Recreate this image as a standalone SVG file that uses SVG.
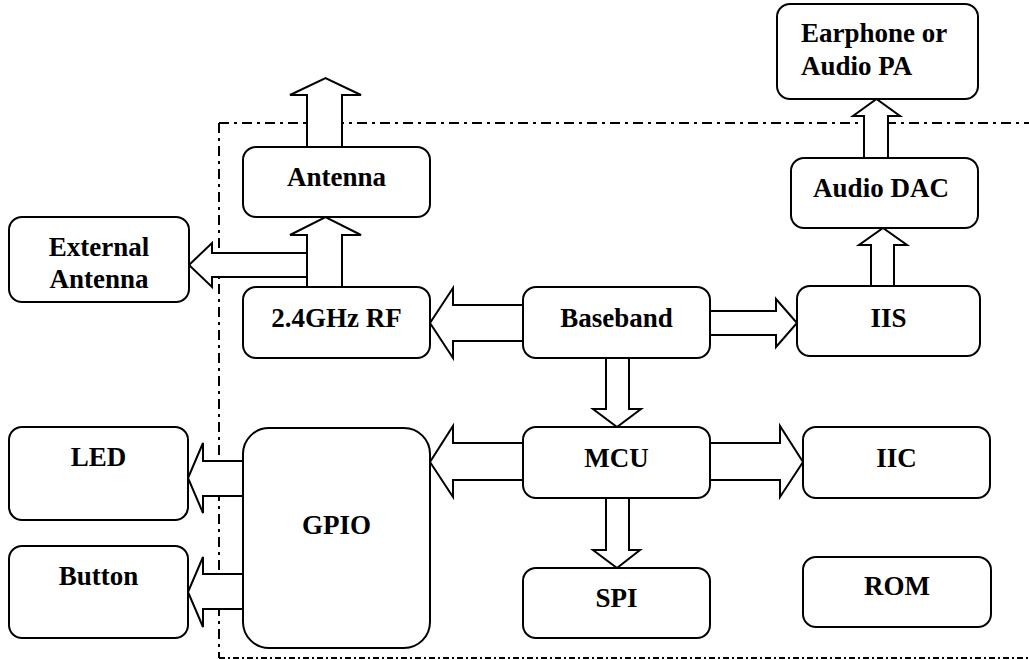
<svg xmlns="http://www.w3.org/2000/svg" width="1029" height="660" viewBox="0 0 1029 660">
<style>
.box{fill:#fff;stroke:#000;stroke-width:2}
.arr{fill:#fff;stroke:#000;stroke-width:2;stroke-linejoin:miter}
.t{font-family:"Liberation Serif","Times New Roman",serif;font-weight:bold;font-size:27px;fill:#000;text-anchor:middle}
.frame{fill:none;stroke:#000;stroke-width:2}
</style>
<rect width="1029" height="660" fill="#fff"/>
<g id="frame">
<path class="frame" d="M219,123 H1029" stroke-dasharray="10 5 3 5"/>
<path class="frame" d="M219,123 V658" stroke-dasharray="10 5 3 5"/>
<path class="frame" d="M219,658 H1029" stroke-dasharray="6 3 2 3"/>
</g>
<g id="connectors">
<polygon class="arr" points="307,147 307,95 290,95 325.5,78 361,95 342,95 342,147"/>
<polygon class="arr" points="212,253 308,253 308,277 212,277 212,287 189,265 212,243"/>
<polygon class="arr" points="307,287 307,235 290,235 325.5,217 361,235 342,235 342,287"/>
<polygon class="arr" points="523,305 453,305 453,288 430,323 453,358 453,341 523,341"/>
<polygon class="arr" points="710,311 776,311 776,299 797,323 776,347 776,335 710,335"/>
<polygon class="arr" points="606,358 606,409 593,409 617,427 641,409 629,409 629,358"/>
<polygon class="arr" points="523,443 453,443 453,426 430,462 453,497 453,480 523,480"/>
<polygon class="arr" points="710,443 780,443 780,426 803,462 780,497 780,480 710,480"/>
<polygon class="arr" points="606,498 606,550 593,550 617,568 640,550 629,550 629,498"/>
<polygon class="arr" points="243,461 203,461 203,443 188,478 203,513 203,496 243,496"/>
<polygon class="arr" points="243,574 203,574 203,557 188,592 203,627 203,609 243,609"/>
<polygon class="arr" points="871,286 871,245 859,245 883,228 907,245 894,245 894,286"/>
<polygon class="arr" points="864,158 864,116 853,116 876.5,99 900,116 888,116 888,158"/>
</g>
<g id="earphone"><rect class="box" x="777" y="4" width="201" height="95" rx="13"/><text class="t" style="text-anchor:start" x="801" y="42">Earphone or</text><text class="t" style="text-anchor:start" x="801" y="75">Audio PA</text></g>
<g id="audio-dac"><rect class="box" x="791" y="158" width="187" height="70" rx="13"/><text class="t" x="881" y="197">Audio DAC</text></g>
<g id="antenna"><rect class="box" x="243" y="147" width="187" height="70" rx="13"/><text class="t" x="336.5" y="186">Antenna</text></g>
<g id="external-antenna"><rect class="box" x="9" y="217" width="180" height="85" rx="13"/><text class="t" x="99" y="256">External</text><text class="t" x="99" y="288">Antenna</text></g>
<g id="rf"><rect class="box" x="243" y="287" width="187" height="71" rx="13"/><text class="t" x="336.5" y="327">2.4GHz RF</text></g>
<g id="baseband"><rect class="box" x="523" y="287" width="187" height="71" rx="13"/><text class="t" x="616.5" y="327">Baseband</text></g>
<g id="iis"><rect class="box" x="797" y="286" width="183" height="70" rx="13"/><text class="t" x="888.5" y="327">IIS</text></g>
<g id="mcu"><rect class="box" x="523" y="427" width="187" height="71" rx="13"/><text class="t" x="616.5" y="467">MCU</text></g>
<g id="iic"><rect class="box" x="803" y="427" width="187" height="71" rx="13"/><text class="t" x="896.5" y="467">IIC</text></g>
<g id="spi"><rect class="box" x="523" y="568" width="187" height="70" rx="13"/><text class="t" x="616.5" y="607">SPI</text></g>
<g id="rom"><rect class="box" x="803" y="557" width="188" height="70" rx="13"/><text class="t" x="897" y="595">ROM</text></g>
<g id="led"><rect class="box" x="9" y="427" width="179" height="93" rx="13"/><text class="t" x="98.5" y="466">LED</text></g>
<g id="button"><rect class="box" x="9" y="546" width="179" height="92" rx="13"/><text class="t" x="98.5" y="585">Button</text></g>
<g id="gpio"><rect class="box" x="243" y="428" width="187" height="220" rx="26"/><text class="t" x="336.5" y="534">GPIO</text></g>
</svg>
